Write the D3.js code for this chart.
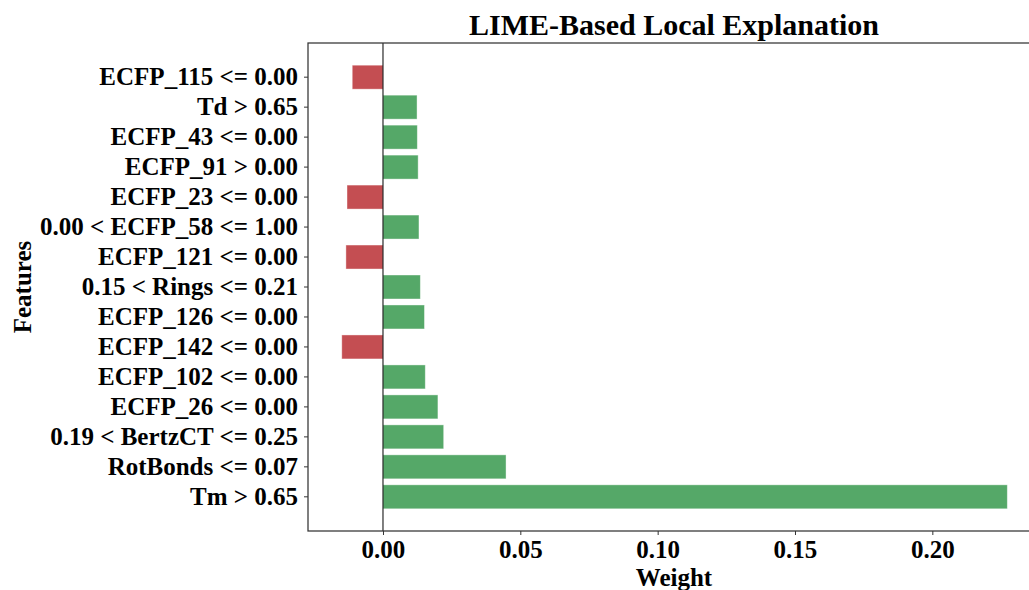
<!DOCTYPE html>
<html>
<head>
<meta charset="utf-8">
<script src="https://cdn.jsdelivr.net/npm/d3@7"></script>
<style>
  body { margin: 0; background: #fff; }
  svg { display: block; font-family: "Liberation Serif", "Times New Roman", serif; font-weight: bold; }
</style>
</head>
<body>
<div id="chart"></div>
<script>
// feature labels, top to bottom
const features = [
  "ECFP_115 <= 0.00", "Td > 0.65", "ECFP_43 <= 0.00", "ECFP_91 > 0.00",
  "ECFP_23 <= 0.00", "0.00 < ECFP_58 <= 1.00", "ECFP_121 <= 0.00",
  "0.15 < Rings <= 0.21", "ECFP_126 <= 0.00", "ECFP_142 <= 0.00",
  "ECFP_102 <= 0.00", "ECFP_26 <= 0.00", "0.19 < BertzCT <= 0.25",
  "RotBonds <= 0.07", "Tm > 0.65"
];
const weights = [
  -0.0112, 0.0124, 0.0125, 0.0128, -0.0131, 0.0131, -0.0135,
  0.0136, 0.0151, -0.0150, 0.0154, 0.0200, 0.0221, 0.0448, 0.2273
];
const xTicks = [0, 0.05, 0.10, 0.15, 0.20];

const width = 1029, height = 590;
const plotL = 308, plotR = 1040, plotT = 43, plotB = 531;

const svg = d3.select("#chart").append("svg")
  .attr("width", width)
  .attr("height", height);

const x = d3.scaleLinear().domain([-0.0273, 0.2392]).range([plotL, plotR]);
const y = d3.scaleBand().domain(features).range([plotT, plotB])
  .paddingInner(0.2).paddingOuter(0.74);

// bars
svg.append("g")
  .selectAll("rect")
  .data(features)
  .join("rect")
  .attr("x", (d, i) => x(Math.min(0, weights[i])))
  .attr("y", d => y(d))
  .attr("width", (d, i) => Math.abs(x(weights[i]) - x(0)))
  .attr("height", y.bandwidth())
  .attr("fill", (d, i) => weights[i] < 0 ? "#c44e52" : "#55a868")
  .attr("stroke", "#fff")
  .attr("stroke-opacity", 0.5)
  .attr("stroke-width", 0.8);

// zero line
svg.append("line")
  .attr("x1", x(0)).attr("x2", x(0))
  .attr("y1", plotT).attr("y2", plotB)
  .attr("stroke", "#000").attr("stroke-width", 1);

// x axis
const xAxis = svg.append("g")
  .attr("transform", `translate(0,${plotB})`)
  .call(d3.axisBottom(x).tickValues(xTicks).tickFormat(d3.format(".2f")).tickSizeOuter(0).tickSize(4).tickPadding(5))
  .attr("font-family", null).attr("font-size", 25);
xAxis.select(".domain").remove();
xAxis.selectAll("line").attr("stroke", "#333");
xAxis.selectAll("text").attr("fill", "#000");

// y axis
const yAxis = svg.append("g")
  .attr("transform", `translate(${plotL},0)`)
  .call(d3.axisLeft(y).tickSizeOuter(0).tickSize(4).tickPadding(6))
  .attr("font-family", null).attr("font-size", 25);
yAxis.select(".domain").remove();
yAxis.selectAll("line").attr("stroke", "#333");
yAxis.selectAll("text").attr("fill", "#000");

// frame
svg.append("rect")
  .attr("x", plotL).attr("y", plotT)
  .attr("width", plotR - plotL).attr("height", plotB - plotT)
  .attr("fill", "none").attr("stroke", "#333").attr("stroke-width", 1.25);

// title and labels
svg.append("text")
  .attr("x", (plotL + plotR) / 2).attr("y", 35)
  .attr("text-anchor", "middle").attr("font-size", 30)
  .text("LIME-Based Local Explanation");

svg.append("text")
  .attr("x", (plotL + plotR) / 2).attr("y", 586)
  .attr("text-anchor", "middle").attr("font-size", 25)
  .text("Weight");

svg.append("text")
  .attr("transform", `translate(31,${(plotT + plotB) / 2}) rotate(-90)`)
  .attr("text-anchor", "middle").attr("font-size", 25)
  .text("Features");
</script>
</body>
</html>
